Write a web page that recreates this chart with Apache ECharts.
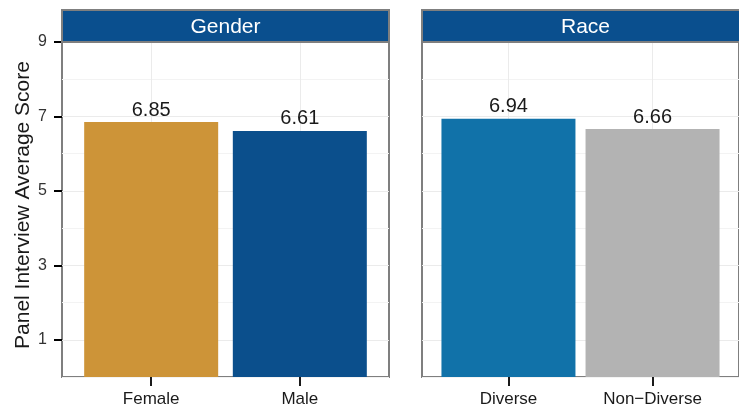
<!DOCTYPE html>
<html><head><meta charset="utf-8">
<script src="https://cdn.jsdelivr.net/npm/echarts@6/dist/echarts.min.js"></script>
<style>html,body{margin:0;padding:0;background:#fff}#c{width:739px;height:410px}</style>
</head><body><div id="c"></div>
<script>
const facetNames = ['Gender', 'Race'];
const genderCategories = ['Female', 'Male'];
const genderValues = [6.85, 6.61];
const raceCategories = ['Diverse', 'Non\u2212Diverse'];
const raceValues = [6.94, 6.66];
const yTickValues = [1, 3, 5, 7, 9];
const yTitle = 'Panel Interview Average Score';
const genderColors = ['#cd9438', '#0b4f8c'];
const raceColors = ['#1172a9', '#b3b3b3'];

const FONT = "'Liberation Sans', Arial, sans-serif";
const panels = [
  { left: 62, cats: genderCategories, vals: genderValues, colors: genderColors, name: facetNames[0] },
  { left: 422, cats: raceCategories, vals: raceValues, colors: raceColors, name: facetNames[1] }
];
const PW = 327, PT = 42, PH = 335, ST = 10;

const grid = [], xAxis = [], yAxis = [], series = [], graphic = [];
panels.forEach((p, gi) => {
  grid.push({ left: p.left, top: PT, width: PW, height: PH, show: true, borderColor: '#7f7f7f', borderWidth: 2, backgroundColor: 'transparent' });
  const cats = p.cats;
  xAxis.push({
    type: 'value', gridIndex: gi, min: 0.4, max: 2.6,
    axisLine: { show: false },
    axisTick: { show: true, customValues: cats.map((c, i) => i + 1), length: 9, lineStyle: { color: '#1a1a1a', width: 2 } },
    axisLabel: { show: true, customValues: cats.map((c, i) => i + 1), formatter: v => cats[Math.round(v) - 1] || '', fontSize: 17, color: '#1a1a1a', fontFamily: FONT, margin: 14 },
    splitLine: { show: true, lineStyle: { color: '#ebebeb', width: 1 } }
  });
  yAxis.push({
    type: 'value', gridIndex: gi, min: 0, max: 9, interval: 1, position: 'left',
    axisLine: { show: false }, axisTick: { show: false }, axisLabel: { show: false },
    splitLine: { show: true, lineStyle: { color: '#f3f3f3', width: 1 } }
  });
  yAxis.push({
    type: 'value', gridIndex: gi, min: 0, max: 9, position: 'left',
    axisLine: { show: false },
    axisTick: { show: gi === 0, customValues: yTickValues, length: 8, lineStyle: { color: '#000', width: 2 } },
    axisLabel: { show: gi === 0, customValues: yTickValues, fontSize: 16, color: '#333', fontFamily: FONT, margin: 15 },
    splitLine: { show: true, lineStyle: { color: '#ebebeb', width: 1 } }
  });
  series.push({
    type: 'bar', xAxisIndex: gi, yAxisIndex: gi * 2, barWidth: 134,
    data: p.vals.map((v, i) => ({ value: [i + 1, v], itemStyle: { color: p.colors[i] } })),
    label: { show: true, position: 'top', distance: 2, fontSize: 20, color: '#1a1a1a', fontFamily: FONT, formatter: d => d.value[1].toFixed(2) },
    animation: false
  });
  graphic.push({
    type: 'rect', shape: { x: p.left, y: ST, width: PW, height: PT - ST },
    style: { fill: '#0a4f8e', stroke: '#7f7f7f', lineWidth: 2 }, z: 10
  });
  graphic.push({
    type: 'text', x: p.left + PW / 2, y: (ST + PT) / 2 + 1, z: 11,
    style: { text: p.name, fill: '#ffffff', fontSize: 21, fontFamily: FONT, textAlign: 'center', textVerticalAlign: 'middle' }
  });
});
graphic.push({
  type: 'text', x: 23, y: 205, rotation: Math.PI / 2, z: 11,
  style: { text: yTitle, fill: '#1a1a1a', fontSize: 21, fontFamily: FONT, textAlign: 'center', textVerticalAlign: 'middle' }
});

const chart = echarts.init(document.getElementById('c'), null, { renderer: 'canvas' });
chart.setOption({ animation: false, grid, xAxis, yAxis, series, graphic });
</script></body></html>
